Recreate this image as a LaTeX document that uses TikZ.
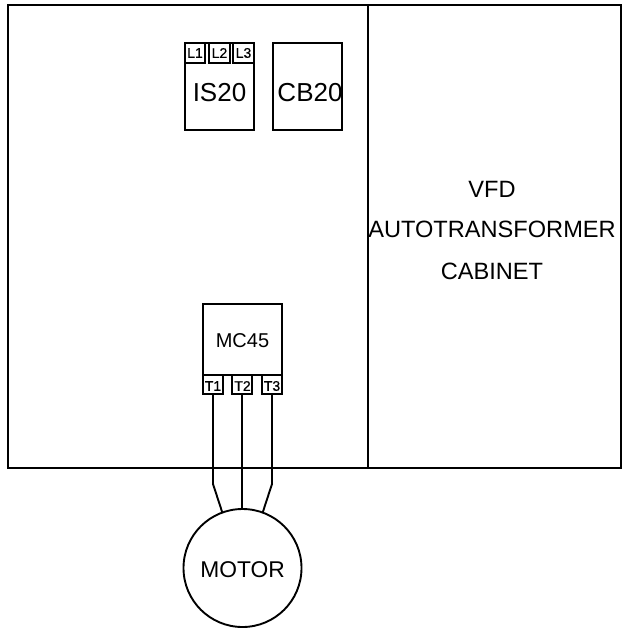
\documentclass[tikz,border=0pt]{standalone}
\usepackage{fontspec}
\setmainfont{Liberation Sans}
\newfontfamily\tagfont[Scale=1.0,AutoFakeBold=0.6]{Liberation Sans}
\tikzset{
  x=1pt,y=-1pt,
  wire/.style={line width=1.9pt,black},
  box/.style={draw=black,line width=1.9pt,rectangle,inner sep=0pt,outer sep=0pt,anchor=north west},
  lbl/.style={inner sep=0pt,outer sep=0pt,anchor=center,text=black},
  tag/.style={lbl,font=\tagfont\bfseries\fsz{14}},
}
\newcommand{\fsz}[1]{\fontsize{#1}{#1}\selectfont}
\begin{document}
\begin{tikzpicture}
\useasboundingbox (0,0) rectangle (629,634);
% cabinets
\node[box,minimum width=360pt,minimum height=463pt] (left) at (8,5) {};
\node[box,minimum width=253pt,minimum height=463pt] (right) at (368,5) {};
% IS20
\node[box,minimum width=69pt,minimum height=87pt] (is) at (185,43) {};
\node[lbl,font=\fsz{26}] (istxt) at (219.5,93) {IS20};
\node[box,minimum width=20pt,minimum height=20pt] (l1) at (185,43) {};
\node[box,minimum width=21pt,minimum height=20pt] (l2) at (209,43) {};
\node[box,minimum width=21pt,minimum height=20pt] (l3) at (233,43) {};
\node[tag] (l1t) at (195,53) {L1};
\node[tag] (l2t) at (219.5,53) {L2};
\node[tag] (l3t) at (243.5,53) {L3};
% CB20
\node[box,minimum width=69pt,minimum height=87pt] (cb) at (273,43) {};
\node[lbl,font=\fsz{26}] (cbtxt) at (310,93) {CB20};
% MC45
\node[box,minimum width=79pt,minimum height=71pt] (mc) at (203,304) {};
\node[lbl,font=\fsz{20}] (mctxt) at (242.5,340.5) {MC45};
\node[box,minimum width=20pt,minimum height=19pt] (t1) at (203,375) {};
\node[box,minimum width=20pt,minimum height=19pt] (t2) at (232,375) {};
\node[box,minimum width=20pt,minimum height=19pt] (t3) at (262,375) {};
\node[tag] (t1t) at (213,386) {T1};
\node[tag] (t2t) at (242.5,386) {T2};
\node[tag] (t3t) at (272,386) {T3};
% right cabinet text
\node[lbl,font=\fsz{23.6}] (vfd) at (492,189) {VFD};
\node[lbl,font=\fsz{23.6}] (auto) at (492,229) {AUTOTRANSFORMER};
\node[lbl,font=\fsz{23.6}] (cab) at (492,271) {CABINET};
% motor
\node[draw=black,line width=1.9pt,circle,minimum size=118pt,inner sep=0pt,outer sep=0pt] (motor) at (242.5,568) {};
\node[lbl,font=\fsz{22.8}] (motortxt) at (242.5,570) {MOTOR};
% wires
\coordinate (b1) at (213,484);
\coordinate (b3) at (272,484);
\draw[wire] (t1.south) -- (b1) -- (motor.110);
\draw[wire] (t2.south) -- (t2.south |- motor.north);
\draw[wire] (t3.south) -- (b3) -- (motor.70);
\end{tikzpicture}
\end{document}
